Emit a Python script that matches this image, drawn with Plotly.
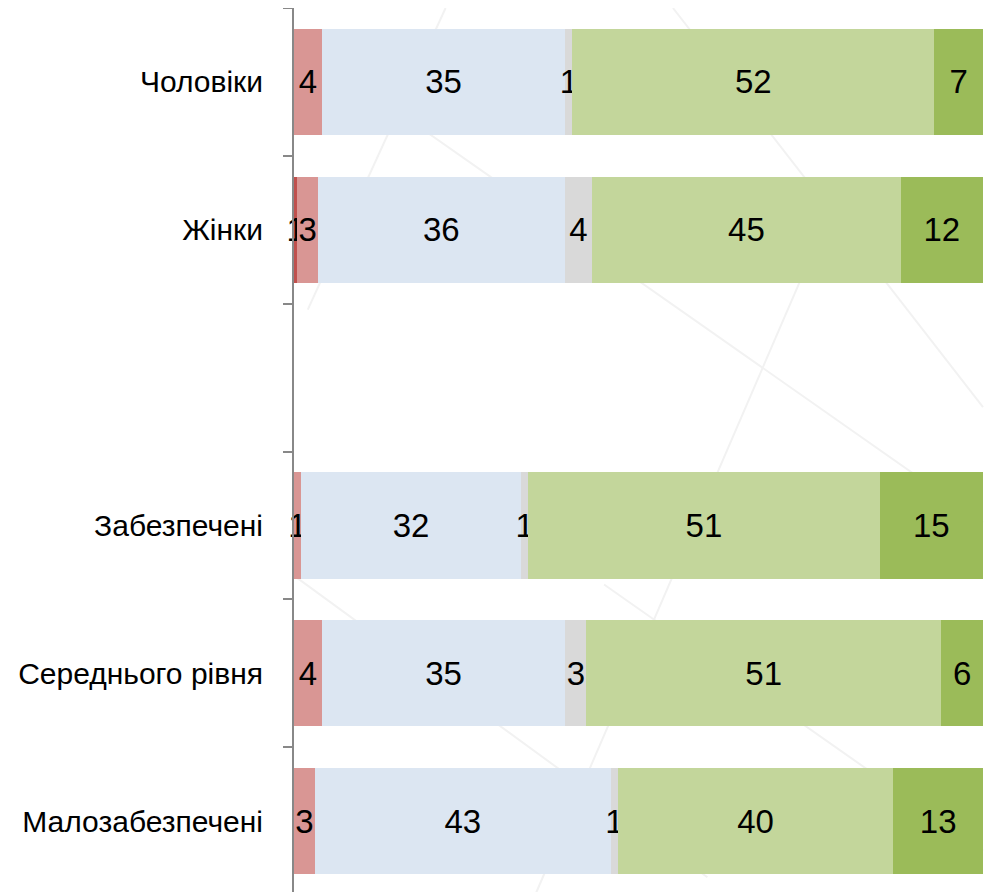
import plotly.graph_objects as go

# категорії (порожній рядок — розрив між групами)
categories = ["Чоловіки", "Жінки", " ", "Забезпечені", "Середнього рівня", "Малозабезпечені"]

# значення по сегментах, зліва направо
dark_red = [0, 0.5, None, 0, 0, 0]
light_red = [4, 3, None, 1, 4, 3]
light_blue = [35, 36, None, 32, 35, 43]
gray = [1, 4, None, 1, 3, 1]
light_green = [52, 45, None, 51, 51, 40]
green = [7, 12, None, 15, 6, 13]

series = [
    (dark_red, "#C0504D"),
    (light_red, "#D99694"),
    (light_blue, "#DCE6F2"),
    (gray, "#D9D9D9"),
    (light_green, "#C3D69B"),
    (green, "#9BBB59"),
]

FONT = "Liberation Sans, Arial"

# сума по кожному рядку, щоб кожна смуга займала 100%
totals = [sum(s[0][i] or 0 for s in series) for i in range(len(categories))]


def label(v):
    if not v:
        return ""
    return str(int(v + 0.5))


fig = go.Figure()

# декоративні лінії фону
for x0, y0, x1, y1 in [(0, 0.965, 1.0, 0.42), (0.02, 0.66, 0.22, 1.0),
                       (0.35, 0.0, 0.75, 0.72), (0.55, 1.0, 1.0, 0.55),
                       (0.0, 0.36, 0.6, 0.02), (0.45, 0.35, 1.0, 0.05)]:
    fig.add_shape(type="line", xref="paper", yref="paper", x0=x0, y0=y0, x1=x1, y1=y1,
                  line=dict(color="#F2F2F2", width=2), layer="below")

for vals, color in series:
    pct = [(v / t * 100) if (v is not None and t) else None for v, t in zip(vals, totals)]
    fig.add_trace(go.Bar(
        y=categories, x=pct, orientation="h",
        marker=dict(color=color, line=dict(width=0)),
        text=[label(v) for v in vals],
        textposition="inside", insidetextanchor="middle",
        textfont=dict(color="black", size=33, family=FONT),
        constraintext="none", cliponaxis=False,
        hoverinfo="skip", showlegend=False,
    ))

# сторінка має відступ 8px, тому поля трохи зсунуті
fig.update_layout(
    barmode="stack", bargap=0.28,
    width=996, height=892,
    margin=dict(l=286, r=21, t=0, b=5),
    plot_bgcolor="rgba(0,0,0,0)", paper_bgcolor="white",
    uniformtext=dict(mode="show", minsize=33),
    font=dict(family=FONT, color="black", size=30),
    xaxis=dict(visible=False, range=[0, 100.01], fixedrange=True, automargin=False),
    yaxis=dict(autorange="reversed", showline=True, linecolor="#888888", linewidth=2,
               ticks="outside", tickson="boundaries", ticklen=9, tickcolor="#888888",
               tickwidth=2, showgrid=False, ticklabelstandoff=23, automargin=False,
               tickfont=dict(size=30, color="black", family=FONT)),
)

fig.write_html("out.html")
